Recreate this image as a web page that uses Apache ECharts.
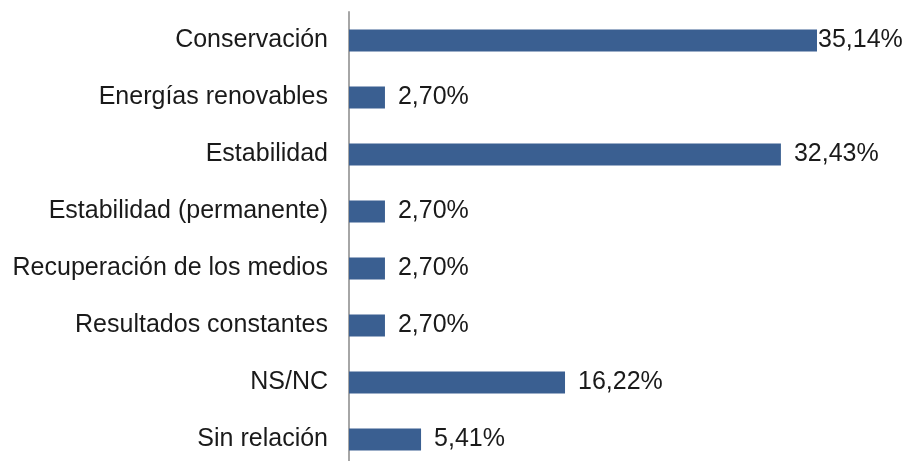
<!DOCTYPE html>
<html>
<head>
<meta charset="utf-8">
<script src="https://cdn.jsdelivr.net/npm/echarts@6/dist/echarts.min.js"></script>
<style>
  html, body { margin: 0; padding: 0; background: #fff; }
  #chart { width: 910px; height: 461px; }
</style>
</head>
<body>
<div id="chart"></div>
<script>
// categories top to bottom
const categories = [
  "Conservación",
  "Energías renovables",
  "Estabilidad",
  "Estabilidad (permanente)",
  "Recuperación de los medios",
  "Resultados constantes",
  "NS/NC",
  "Sin relación"
];
const percentages = [35.14, 2.70, 32.43, 2.70, 2.70, 2.70, 16.22, 5.41];

var chart = echarts.init(document.getElementById('chart'));

const seriesData = percentages.map(function (v, i) {
  let item = { value: v };
  if (i === 0) item.label = { distance: 1 };
  return item;
});

const textFont = 'Liberation Sans, Arial, sans-serif';

chart.setOption({
  animation: false,
  grid: { left: 349, top: 12, width: 468, height: 456, outerBoundsMode: 'none' },
  xAxis: {
    type: 'value', min: 0, max: 35.14,
    show: false
  },
  yAxis: {
    type: 'category',
    data: categories,
    inverse: true,
    axisLine: { lineStyle: { color: '#a6a6a6', width: 2 } },
    axisTick: { show: false },
    axisLabel: {
      margin: 21,
      fontFamily: textFont,
      fontSize: 25,
      color: '#1a1a1a'
    }
  },
  series: [{
    type: 'bar',
    data: seriesData,
    barWidth: 22,
    itemStyle: { color: '#3a5f91' },
    label: {
      show: true,
      position: 'right',
      distance: 13,
      fontFamily: textFont,
      fontSize: 25,
      color: '#1a1a1a',
      formatter: function (p) { return p.value.toFixed(2).replace('.', ',') + '%'; }
    }
  }]
});
</script>
</body>
</html>
